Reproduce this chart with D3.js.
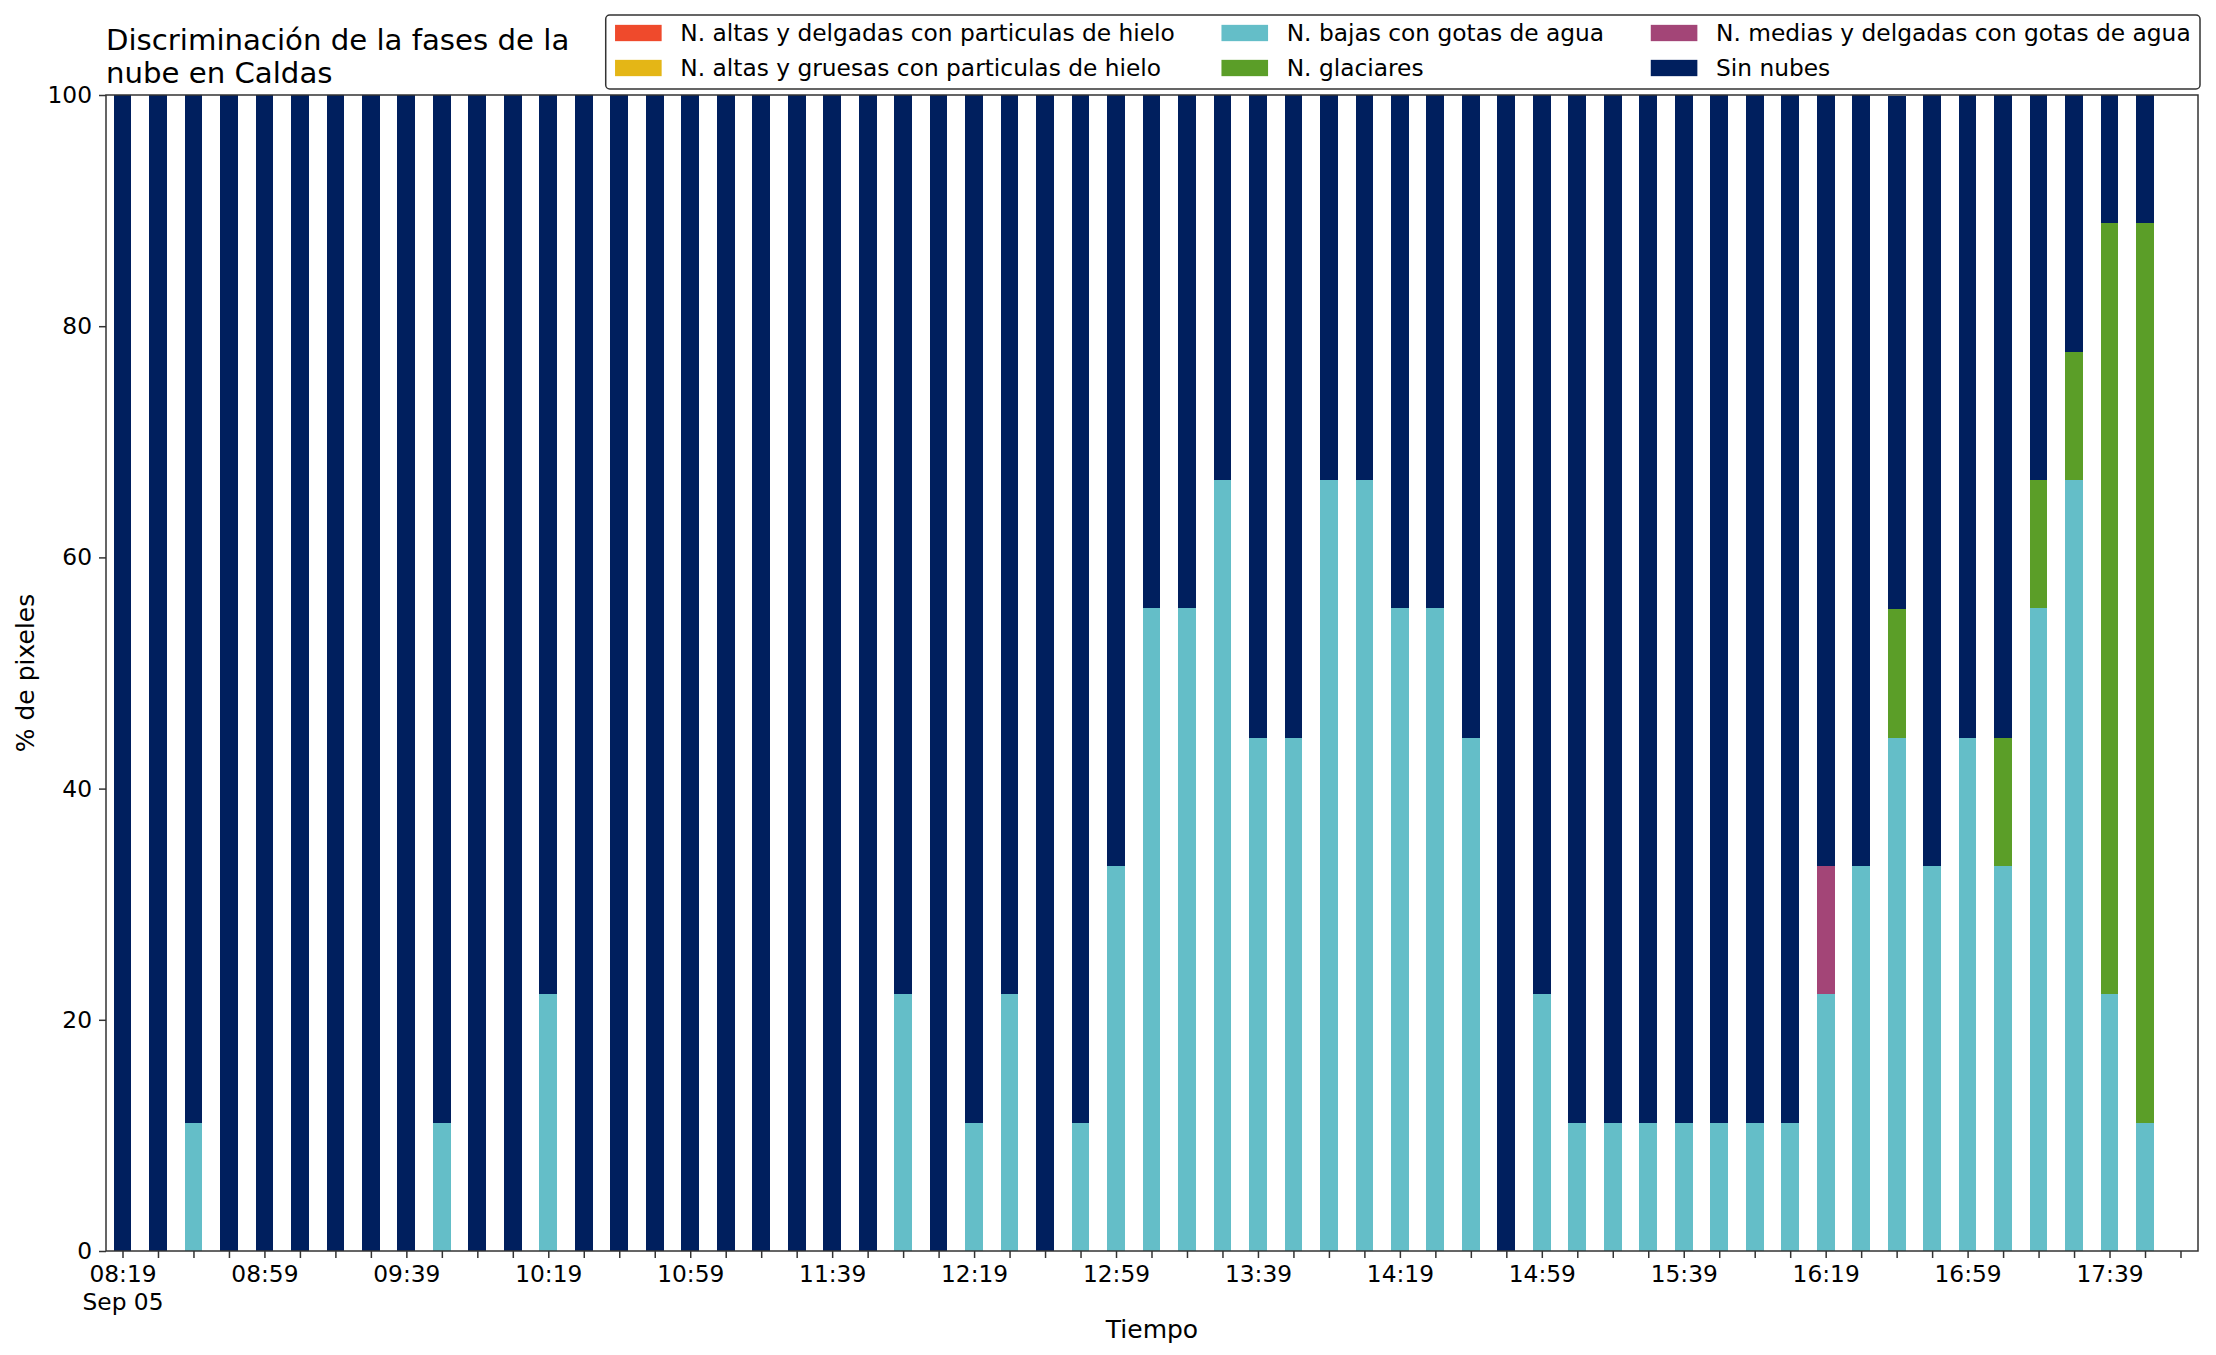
<!DOCTYPE html>
<html>
<head>
<meta charset="utf-8">
<script src="https://cdn.jsdelivr.net/npm/d3@7"></script>
<style>
  html, body { margin: 0; padding: 0; background: #fff; }
  text { font-family: 'DejaVu Sans', sans-serif; fill: #000; }
</style>
</head>
<body>
<div id="nubes-chart"></div>
<script>
/* =========================================================
   DATA
========================================================= */

const times = [
  '08:19', '08:29', '08:39', '08:49', '08:59', '09:09', '09:19', '09:29',
  '09:39', '09:49', '09:59', '10:09', '10:19', '10:29', '10:39', '10:49',
  '10:59', '11:09', '11:19', '11:29', '11:39', '11:49', '11:59', '12:09',
  '12:19', '12:29', '12:39', '12:49', '12:59', '13:09', '13:19', '13:29',
  '13:39', '13:49', '13:59', '14:09', '14:19', '14:29', '14:39', '14:49',
  '14:59', '15:09', '15:19', '15:29', '15:39', '15:49', '15:59', '16:09',
  '16:19', '16:29', '16:39', '16:49', '16:59', '17:09', '17:19', '17:29',
  '17:39', '17:49',
];

const altasDelgadas = new Array(58).fill(0);
const altasGruesas = new Array(58).fill(0);

const bajas = [
  0, 0, 11.1, 0, 0, 0, 0, 0,
  0, 11.1, 0, 0, 22.2, 0, 0, 0,
  0, 0, 0, 0, 0, 0, 22.2, 0,
  11.1, 22.2, 0, 11.1, 33.3, 55.6, 55.6, 66.7,
  44.4, 44.4, 66.7, 66.7, 55.6, 55.6, 44.4, 0,
  22.2, 11.1, 11.1, 11.1, 11.1, 11.1, 11.1, 11.1,
  22.2, 33.3, 44.4, 33.3, 44.4, 33.3, 55.6, 66.7,
  22.2, 11.1,
];

const glaciares = [
  0, 0, 0, 0, 0, 0, 0, 0,
  0, 0, 0, 0, 0, 0, 0, 0,
  0, 0, 0, 0, 0, 0, 0, 0,
  0, 0, 0, 0, 0, 0, 0, 0,
  0, 0, 0, 0, 0, 0, 0, 0,
  0, 0, 0, 0, 0, 0, 0, 0,
  0, 0, 11.1, 0, 0, 11.1, 11.1, 11.1,
  66.7, 77.8,
];

const medias = [
  0, 0, 0, 0, 0, 0, 0, 0,
  0, 0, 0, 0, 0, 0, 0, 0,
  0, 0, 0, 0, 0, 0, 0, 0,
  0, 0, 0, 0, 0, 0, 0, 0,
  0, 0, 0, 0, 0, 0, 0, 0,
  0, 0, 0, 0, 0, 0, 0, 0,
  11.1, 0, 0, 0, 0, 0, 0, 0,
  0, 0,
];

const sinNubes = [
  100, 100, 88.9, 100, 100, 100, 100, 100,
  100, 88.9, 100, 100, 77.8, 100, 100, 100,
  100, 100, 100, 100, 100, 100, 77.8, 100,
  88.9, 77.8, 100, 88.9, 66.7, 44.4, 44.4, 33.3,
  55.6, 55.6, 33.3, 33.3, 44.4, 44.4, 55.6, 100,
  77.8, 88.9, 88.9, 88.9, 88.9, 88.9, 88.9, 88.9,
  66.7, 66.7, 44.4, 66.7, 55.6, 55.6, 33.3, 22.2,
  11.1, 11.1,
];

const seriesNames = [
  'N. altas y delgadas con particulas de hielo',
  'N. altas y gruesas con particulas de hielo',
  'N. bajas con gotas de agua',
  'N. glaciares',
  'N. medias y delgadas con gotas de agua',
  'Sin nubes',
];
const seriesValues = [altasDelgadas, altasGruesas, bajas, glaciares, medias, sinNubes];
const seriesColors = ['#ef4a2c', '#e4b616', '#64bec8', '#5b9e28', '#a34577', '#001f5e'];

const yTicks = [0, 20, 40, 60, 80, 100];

/* =========================================================
   CONFIGURATION
========================================================= */

const CONFIG = {
  name: 'nubes-chart',
  width: 2216,
  height: 1355,
  margin: { top: 95, right: 18, bottom: 104, left: 106 },
  font: 23.3,
  labelFont: 25,
  titleFont: 29.2,
  tickLength: 7,
  tickPad: 7,
  axisColor: '#333',
  day: '2020-09-05',
  xStart: '08:14:21',
  xEnd: '18:03:56',
  barMinutes: 5,
};

const parseTime = d3.timeParse('%Y-%m-%d %H:%M:%S');
const toDate = (hm) => parseTime(CONFIG.day + ' ' + (hm.length === 5 ? hm + ':00' : hm));

const plotLeft = CONFIG.margin.left;
const plotRight = CONFIG.width - CONFIG.margin.right;
const plotTop = CONFIG.margin.top;
const plotBottom = CONFIG.height - CONFIG.margin.bottom;

/* =====================================================
   SVG
===================================================== */
const svg = d3
  .select('#' + CONFIG.name)
  .append('svg')
  .attr('width', CONFIG.width)
  .attr('height', CONFIG.height)
  .style('display', 'block');

/* =====================================================
   SCALES
===================================================== */
const xScale = d3
  .scaleTime()
  .domain([toDate(CONFIG.xStart), toDate(CONFIG.xEnd)])
  .range([plotLeft, plotRight]);

const yScale = d3.scaleLinear().domain([0, 100]).range([plotBottom, plotTop]);

/* =====================================================
   STACKED BARS
===================================================== */
const rows = times.map((t, i) => {
  let row = { time: toDate(t) };
  seriesNames.forEach((name, k) => (row[name] = seriesValues[k][i]));
  return row;
});

const stacked = d3.stack().keys(seriesNames)(rows);

const halfBar = CONFIG.barMinutes / 2;
const barLayer = svg.append('g');

stacked.forEach((layer, k) => {
  barLayer
    .append('g')
    .attr('fill', seriesColors[k])
    .selectAll('rect')
    .data(layer.filter((d) => d[1] - d[0] > 0))
    .enter()
    .append('rect')
    .attr('x', (d) => xScale(d3.timeSecond.offset(d.data.time, -halfBar * 60)))
    .attr('width', (d) =>
      xScale(d3.timeSecond.offset(d.data.time, halfBar * 60)) -
      xScale(d3.timeSecond.offset(d.data.time, -halfBar * 60))
    )
    .attr('y', (d) => yScale(d[1]))
    .attr('height', (d) => yScale(d[0]) - yScale(d[1]))
    .attr('shape-rendering', 'crispEdges');
});

/* =====================================================
   AXES
===================================================== */
const tickTimes = d3.timeMinute.range(
  toDate(times[0]),
  d3.timeMinute.offset(toDate(times[times.length - 1]), 11),
  10
);
const fmt = d3.timeFormat('%H:%M');

const xAxis = d3
  .axisBottom(xScale)
  .tickValues(tickTimes)
  .tickSize(CONFIG.tickLength)
  .tickPadding(CONFIG.tickPad)
  .tickFormat((d, i) => (i % 4 === 0 ? fmt(d) : ''));

const xAxisG = svg
  .append('g')
  .attr('transform', `translate(0,${plotBottom})`)
  .call(xAxis);

xAxisG.select('.domain').remove();
xAxisG.selectAll('line').attr('stroke', CONFIG.axisColor).attr('stroke-width', 1.5);
xAxisG
  .selectAll('text')
  .attr('font-size', CONFIG.font)
  .attr('font-family', 'DejaVu Sans')
  .attr('fill', '#000');

// date under the first label
xAxisG
  .selectAll('.tick')
  .filter((d, i) => i === 0)
  .append('text')
  .attr('y', CONFIG.tickLength + CONFIG.tickPad)
  .attr('dy', '1.95em')
  .attr('text-anchor', 'middle')
  .attr('font-size', CONFIG.font)
  .attr('fill', '#000')
  .text(d3.timeFormat('%b %d'));

const yAxis = d3
  .axisLeft(yScale)
  .tickValues(yTicks)
  .tickSize(CONFIG.tickLength)
  .tickPadding(CONFIG.tickPad);

const yAxisG = svg
  .append('g')
  .attr('transform', `translate(${plotLeft},0)`)
  .call(yAxis);

yAxisG.select('.domain').remove();
yAxisG.selectAll('line').attr('stroke', CONFIG.axisColor).attr('stroke-width', 1.5);
yAxisG
  .selectAll('text')
  .attr('font-size', CONFIG.font)
  .attr('font-family', 'DejaVu Sans')
  .attr('fill', '#000');

// frame
svg
  .append('rect')
  .attr('x', plotLeft)
  .attr('y', plotTop)
  .attr('width', plotRight - plotLeft)
  .attr('height', plotBottom - plotTop)
  .attr('fill', 'none')
  .attr('stroke', CONFIG.axisColor)
  .attr('stroke-width', 1.5);

/* =====================================================
   LABELS
===================================================== */
svg
  .append('text')
  .attr('x', (plotLeft + plotRight) / 2)
  .attr('y', 1338)
  .attr('text-anchor', 'middle')
  .attr('font-size', CONFIG.labelFont)
  .text('Tiempo');

svg
  .append('text')
  .attr('transform', `translate(34,${(plotTop + plotBottom) / 2}) rotate(-90)`)
  .attr('text-anchor', 'middle')
  .attr('font-size', CONFIG.labelFont)
  .text('% de pixeles');

const title = svg
  .append('text')
  .attr('x', plotLeft)
  .attr('y', 50)
  .attr('font-size', CONFIG.titleFont);
title.append('tspan').attr('x', plotLeft).text('Discriminación de la fases de la');
title.append('tspan').attr('x', plotLeft).attr('dy', 33).text('nube en Caldas');

/* =====================================================
   LEGEND (3 columns, 2 rows, column-major)
===================================================== */
const em = CONFIG.font;
const legend = {
  right: 2200,
  top: 15,
  rowCenters: [33, 68],
  handleW: 2.0 * em,
  handleH: 0.7 * em,
  textPad: 0.8 * em,
  colSpacing: 2.0 * em,
  borderPad: 0.4 * em,
};

const legendG = svg.append('g');
const probe = legendG.append('text').attr('font-size', em);
const textWidths = seriesNames.map((n) => {
  probe.text(n);
  return probe.node().getComputedTextLength();
});
probe.remove();

const nCols = 3;
const colWidths = d3.range(nCols).map(
  (c) => legend.handleW + legend.textPad + Math.max(textWidths[c * 2], textWidths[c * 2 + 1])
);
const boxWidth = d3.sum(colWidths) + legend.colSpacing * (nCols - 1) + legend.borderPad * 2;
const boxLeft = legend.right - boxWidth;

legendG
  .append('rect')
  .attr('x', boxLeft)
  .attr('y', legend.top)
  .attr('width', boxWidth)
  .attr('height', 74)
  .attr('rx', 4)
  .attr('fill', '#fff')
  .attr('fill-opacity', 0.8)
  .attr('stroke', '#333')
  .attr('stroke-width', 1.5);

let colX = boxLeft + legend.borderPad;
d3.range(nCols).forEach((c) => {
  [0, 1].forEach((r) => {
    let k = c * 2 + r;
    let cy = legend.rowCenters[r];
    legendG
      .append('rect')
      .attr('x', colX)
      .attr('y', cy - legend.handleH / 2)
      .attr('width', legend.handleW)
      .attr('height', legend.handleH)
      .attr('fill', seriesColors[k]);
    legendG
      .append('text')
      .attr('x', colX + legend.handleW + legend.textPad)
      .attr('y', cy)
      .attr('dy', '0.36em')
      .attr('font-size', em)
      .text(seriesNames[k]);
  });
  colX += colWidths[c] + legend.colSpacing;
});
</script>
</body>
</html>
